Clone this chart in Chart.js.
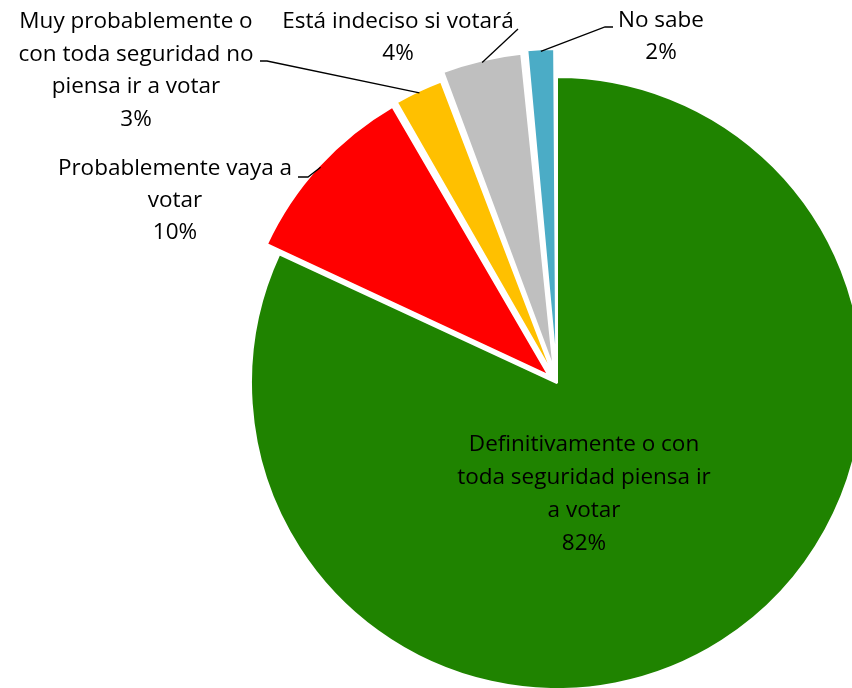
<!DOCTYPE html>
<html>
<head>
<meta charset="utf-8">
<script src="https://cdn.jsdelivr.net/npm/chart.js@4.4.1/dist/chart.umd.min.js"></script>
<style>
  html, body { margin: 0; padding: 0; background: #fff; }
  #wrap { width: 852px; height: 688px; }
</style>
</head>
<body>
<div id="wrap"><canvas id="c" width="852" height="688"></canvas></div>
<script>
// datos
const categories = [
  'Definitivamente o con toda seguridad piensa ir a votar',
  'Probablemente vaya a votar',
  'Muy probablemente o con toda seguridad no piensa ir a votar',
  'Está indeciso si votará',
  'No sabe'
];
const values = [81.9, 9.75, 2.6, 4.2, 1.55];
const pctLabels = ['82%', '10%', '3%', '4%', '2%'];

const colors = ['#1F8300', '#FF0000', '#FFC000', '#BFBFBF', '#4BACC6'];
const offsets = [0, 45, 37, 58, 59];

// label layout: wrapped lines, center x, first line y, leader elbow points
const labelLines = [
  ['Definitivamente o con', 'toda seguridad piensa ir', 'a votar'],
  ['Probablemente vaya a', 'votar'],
  ['Muy probablemente o', 'con toda seguridad no', 'piensa ir a votar'],
  ['Está indeciso si votará'],
  ['No sabe']
];
const labelPos = [
  { x: 584, y: 445, lh: 33, lead: null },
  { x: 175, y: 169, lh: 32, lead: [[298, 177], [308, 177]] },
  { x: 136, y: 22, lh: 32.5, lead: [[260, 61], [267, 61]] },
  { x: 398, y: 22, lh: 32, lead: [[518, 29]] },
  { x: 661, y: 21, lh: 32, lead: [[613, 27], [605, 27]] }
];

const FONT = '22.5px "Open Sans"';

const labelPlugin = {
  id: 'pieLabels',
  afterDatasetsDraw(chart) {
    const ctx = chart.ctx;
    const meta = chart.getDatasetMeta(0);
    ctx.save();
    meta.data.forEach((arc, i) => {
      const p = labelPos[i];
      // leader line to middle of the outer arc
      if (p.lead) {
        const off = (offsets[i] || 0) / 4;
        const half = (arc.startAngle + arc.endAngle) / 2;
        const circ = arc.endAngle - arc.startAngle;
        const fix = 1 - Math.sin(Math.min(Math.PI, circ));
        const r = arc.outerRadius + off * fix - 2;
        const ex = arc.x + Math.cos(half) * (off + r);
        const ey = arc.y + Math.sin(half) * (off + r);
        ctx.strokeStyle = '#000';
        ctx.lineWidth = 1.3;
        ctx.beginPath();
        ctx.moveTo(p.lead[0][0], p.lead[0][1]);
        for (let k = 1; k < p.lead.length; k++) ctx.lineTo(p.lead[k][0], p.lead[k][1]);
        ctx.lineTo(ex, ey);
        ctx.stroke();
      }
      ctx.fillStyle = '#000';
      ctx.font = FONT;
      ctx.textAlign = 'center';
      ctx.textBaseline = 'middle';
      const lines = labelLines[i].concat([pctLabels[i]]);
      lines.forEach((t, k) => ctx.fillText(t, p.x, p.y + k * p.lh));
    });
    ctx.restore();
  }
};

new Chart(document.getElementById('c'), {
  type: 'pie',
  data: {
    labels: categories,
    datasets: [{
      data: values,
      backgroundColor: colors,
      borderColor: '#FFFFFF',
      borderWidth: 2,
      offset: offsets,
      clip: false
    }]
  },
  options: {
    responsive: false,
    animation: false,
    radius: 306,
    layout: { padding: { left: 262, right: 0, top: 78, bottom: 0 } },
    plugins: {
      legend: { display: false },
      tooltip: { enabled: false }
    }
  },
  plugins: [labelPlugin]
});
</script>
</body>
</html>
